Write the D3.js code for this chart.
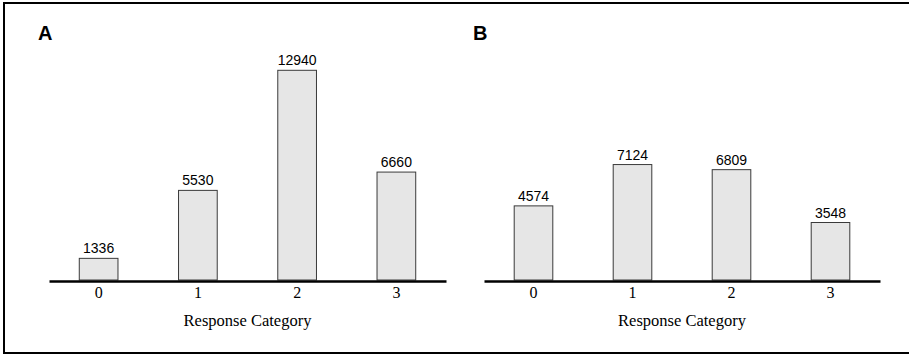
<!DOCTYPE html>
<html>
<head>
<meta charset="utf-8">
<script src="https://cdn.jsdelivr.net/npm/d3@7"></script>
<style>
body { margin: 0; background: #fff; }
svg { display: block; }
</style>
</head>
<body>
<div id="chart"></div>
<script>
const categories = ['0', '1', '2', '3'];
const valuesA = [1336, 5530, 12940, 6660];
const valuesB = [4574, 7124, 6809, 3548];
const panelLabels = ['A', 'B'];

const width = 909, height = 355;
const svg = d3.select('#chart').append('svg')
    .attr('width', width)
    .attr('height', height);

// frame: top, left, bottom (right edge is cut off)
svg.append('path')
    .attr('d', 'M909,3H4V353H909')
    .attr('fill', 'none')
    .attr('stroke', '#000')
    .attr('stroke-width', 2);

// shared value scale
const y = d3.scaleLinear().domain([0, 12940]).range([280, 70.3]);

function drawPanel(values, label, x0, x1) {
    const g = svg.append('g');
    const x = d3.scaleBand()
        .domain(categories)
        .range([x0, x1])
        .paddingInner(0.6)
        .paddingOuter(0.3);

    g.selectAll('rect')
        .data(values)
        .enter().append('rect')
        .attr('x', (d, i) => x(categories[i]) + 0.5)
        .attr('y', d => y(d))
        .attr('width', x.bandwidth() - 1)
        .attr('height', d => y(0) - y(d))
        .attr('fill', '#e6e6e6')
        .attr('stroke', '#3a3a3a')
        .attr('stroke-width', 1);

    g.selectAll('text.val')
        .data(values)
        .enter().append('text')
        .attr('class', 'val')
        .attr('x', (d, i) => x(categories[i]) + x.bandwidth() / 2)
        .attr('y', d => y(d) - 5)
        .attr('text-anchor', 'middle')
        .attr('font-family', 'Liberation Sans, Arial, sans-serif')
        .attr('font-size', 14)
        .text(d => d);

    const axis = g.append('g')
        .attr('transform', 'translate(0,' + 281 + ')')
        .call(d3.axisBottom(x).tickSize(0).tickPadding(6));
    axis.select('.domain')
        .attr('stroke', '#000')
        .attr('stroke-width', 2.5);
    axis.selectAll('text')
        .attr('font-family', 'Liberation Serif, Times New Roman, serif')
        .attr('font-size', 16)
        .attr('fill', '#000');

    g.append('text')
        .attr('x', (x0 + x1) / 2)
        .attr('y', 326)
        .attr('text-anchor', 'middle')
        .attr('font-family', 'Liberation Serif, Times New Roman, serif')
        .attr('font-size', 16.5)
        .text('Response Category');

    g.append('text')
        .attr('x', x0 - 11)
        .attr('y', 40)
        .attr('font-family', 'Liberation Sans, Arial, sans-serif')
        .attr('font-weight', 'bold')
        .attr('font-size', 20)
        .text(label);
}

drawPanel(valuesA, panelLabels[0], 49, 446);
drawPanel(valuesB, panelLabels[1], 484, 880);
</script>
</body>
</html>
